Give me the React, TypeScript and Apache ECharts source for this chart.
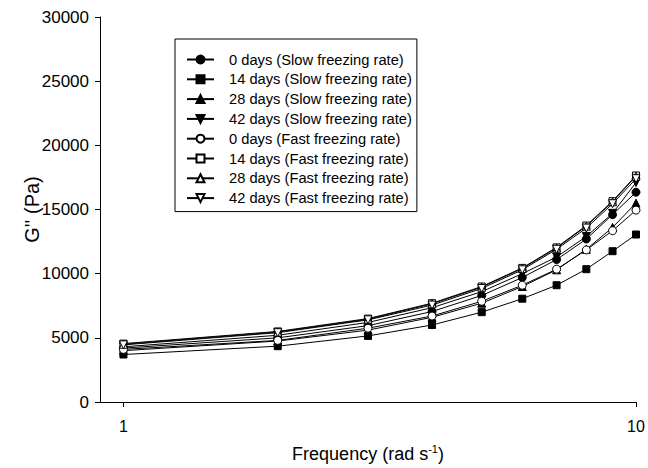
import React, { useEffect, useRef } from "react";
import * as echarts from "echarts";

const frequencies = [1, 2, 3, 4, 5, 6, 7, 8, 9, 10];

const slow0 = [4200, 5000, 5950, 7050, 8300, 9700, 11100, 12700, 14600, 16350];
const slow14 = [3700, 4350, 5150, 6000, 7000, 8050, 9100, 10350, 11750, 13050];
const slow28 = [4000, 4750, 5600, 6600, 7700, 9000, 10300, 11900, 13600, 15500];
const slow42 = [4300, 5200, 6200, 7350, 8600, 10000, 11300, 12900, 14700, 17100];
const fast0 = [4100, 4800, 5750, 6700, 7850, 9100, 10350, 11850, 13350, 14950];
const fast14 = [4550, 5500, 6500, 7700, 9000, 10450, 12050, 13750, 15650, 17650];
const fast28 = [4500, 5450, 6450, 7650, 8950, 10400, 12000, 13700, 15600, 17600];
const fast42 = [4450, 5400, 6400, 7550, 8850, 10300, 11900, 13550, 15450, 17400];

const seriesNames = [
  "0 days (Slow freezing rate)",
  "14 days (Slow freezing rate)",
  "28 days (Slow freezing rate)",
  "42 days (Slow freezing rate)",
  "0 days (Fast freezing rate)",
  "14 days (Fast freezing rate)",
  "28 days (Fast freezing rate)",
  "42 days (Fast freezing rate)",
];
const seriesValues = [slow0, slow14, slow28, slow42, fast0, fast14, fast28, fast42];

const DOWN_TRI = "path://M0,0L10,0L5,9Z";
const symbols = ["circle", "rect", "triangle", DOWN_TRI, "circle", "rect", "triangle", DOWN_TRI];
const symbolSizes = [8, 7, 8, 8, 8, 7, 8, 8];
const filled = [true, true, true, true, false, false, false, false];

const FONT = "'Liberation Sans', Arial, sans-serif";

export default function App() {
  const ref = useRef<HTMLDivElement>(null);
  useEffect(() => {
    if (!ref.current) return;
    const chart = echarts.init(ref.current, null, { renderer: "svg" });
    const series = seriesNames.map((name, i) => ({
      name,
      type: "line",
      data: frequencies.map((f, j) => [f, seriesValues[i][j]]),
      symbol: symbols[i],
      symbolSize: symbolSizes[i],
      showAllSymbol: true,
      lineStyle: { color: "#000", width: 1 },
      itemStyle: filled[i]
        ? { color: "#000", borderColor: "#000", borderWidth: 1 }
        : { color: "#fff", borderColor: "#000", borderWidth: 1 },
      emphasis: { disabled: true },
      z: 2 + i,
    }));
    chart.setOption({
      animation: false,
      textStyle: { fontFamily: FONT },
      grid: { left: 100, right: 12, top: 17, bottom: 66 },
      legend: {
        orient: "vertical",
        left: 175,
        top: 39,
        padding: [13, 5, 6, 11],
        itemWidth: 27,
        itemHeight: 10,
        itemGap: 4.8,
        borderColor: "#000",
        borderWidth: 1,
        borderRadius: 0,
        backgroundColor: "#fff",
        textStyle: { fontSize: 14.7, color: "#000", fontFamily: FONT, padding: [0, 0, 0, 10] },
        data: seriesNames,
      },
      xAxis: {
        type: "log",
        logBase: 10,
        min: 0.9,
        max: 10,
        name: "{a|Frequency (rad s}{b|-1}{a|)}",
        nameLocation: "middle",
        nameGap: 41,
        nameMoveOverlap: false,
        nameTextStyle: {
          rich: {
            a: { fontSize: 18, color: "#000", fontFamily: FONT, lineHeight: 21 },
            b: { fontSize: 11, color: "#000", fontFamily: FONT, verticalAlign: "top", lineHeight: 11 },
          },
        },
        axisLine: { show: true, lineStyle: { color: "#000", width: 1 } },
        axisTick: { show: true, length: 5, inside: false, lineStyle: { color: "#000" } },
        axisLabel: { fontSize: 16, color: "#000", margin: 16, showMinLabel: false, fontFamily: FONT },
        splitLine: { show: false },
        minorTick: { show: false },
      },
      yAxis: {
        type: "value",
        min: 0,
        max: 30000,
        interval: 5000,
        name: "G'' (Pa)",
        nameLocation: "middle",
        nameGap: 58,
        nameMoveOverlap: false,
        nameTextStyle: { fontSize: 20, color: "#000", fontFamily: FONT },
        axisLine: { show: true, lineStyle: { color: "#000", width: 1 } },
        axisTick: { show: true, length: 5, inside: false, lineStyle: { color: "#000" } },
        axisLabel: {
          fontSize: 17,
          color: "#000",
          margin: 11,
          fontFamily: FONT,
          formatter: (v: number) => String(v),
        },
        splitLine: { show: false },
      },
      series,
    });
    return () => chart.dispose();
  }, []);
  return (
    <div
      ref={ref}
      style={{ position: "fixed", left: 0, top: 0, width: 648, height: 468, background: "#fff" }}
    />
  );
}
